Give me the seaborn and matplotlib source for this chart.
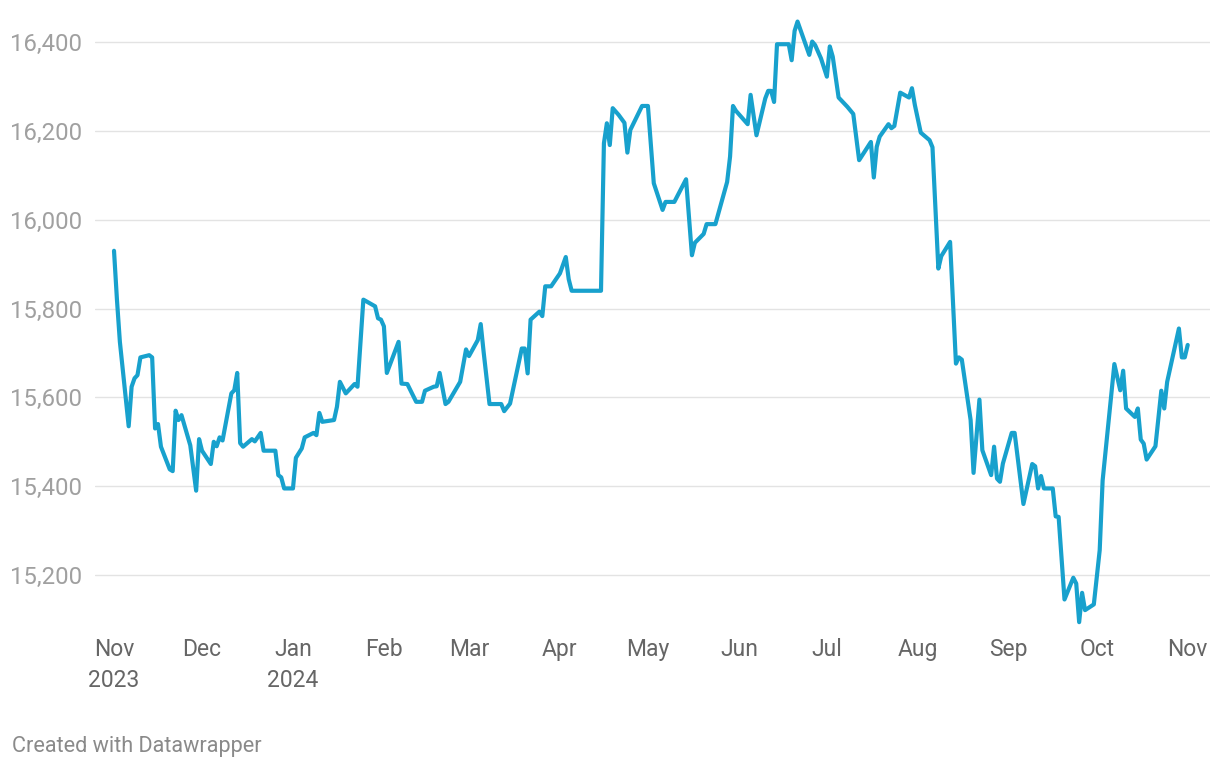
import numpy as np
import pandas as pd
import matplotlib
matplotlib.use("Agg")
import matplotlib.pyplot as plt
import seaborn as sns

# ---- data ----
dates = [
    "2023-11-01", "2023-11-02", "2023-11-03", "2023-11-06", "2023-11-07", "2023-11-08",
    "2023-11-09", "2023-11-10", "2023-11-13", "2023-11-14", "2023-11-15", "2023-11-16",
    "2023-11-17", "2023-11-20", "2023-11-21", "2023-11-22", "2023-11-23", "2023-11-24",
    "2023-11-27", "2023-11-29", "2023-11-30",
    "2023-12-01", "2023-12-04", "2023-12-05", "2023-12-06", "2023-12-07", "2023-12-08",
    "2023-12-11", "2023-12-12", "2023-12-13", "2023-12-14", "2023-12-15", "2023-12-18",
    "2023-12-19", "2023-12-21", "2023-12-22", "2023-12-26", "2023-12-27", "2023-12-28",
    "2023-12-29",
    "2024-01-01", "2024-01-02", "2024-01-04", "2024-01-05", "2024-01-08", "2024-01-09",
    "2024-01-10", "2024-01-11", "2024-01-15", "2024-01-16", "2024-01-17", "2024-01-19",
    "2024-01-22", "2024-01-23", "2024-01-25", "2024-01-29", "2024-01-30", "2024-01-31",
    "2024-02-01", "2024-02-02", "2024-02-06", "2024-02-07", "2024-02-09", "2024-02-12",
    "2024-02-14", "2024-02-15", "2024-02-18", "2024-02-19", "2024-02-20", "2024-02-22",
    "2024-02-23", "2024-02-27", "2024-02-29",
    "2024-03-01", "2024-03-04", "2024-03-05", "2024-03-06", "2024-03-08", "2024-03-12",
    "2024-03-13", "2024-03-15", "2024-03-19", "2024-03-20", "2024-03-21", "2024-03-22",
    "2024-03-25", "2024-03-26", "2024-03-27", "2024-03-29",
    "2024-04-01", "2024-04-03", "2024-04-04", "2024-04-05", "2024-04-15", "2024-04-16",
    "2024-04-17", "2024-04-18", "2024-04-19", "2024-04-21", "2024-04-23", "2024-04-24",
    "2024-04-25", "2024-04-29",
    "2024-05-01", "2024-05-03", "2024-05-06", "2024-05-07", "2024-05-10", "2024-05-14",
    "2024-05-16", "2024-05-17", "2024-05-20", "2024-05-21", "2024-05-24", "2024-05-28",
    "2024-05-29", "2024-05-30", "2024-05-31",
    "2024-06-04", "2024-06-05", "2024-06-07", "2024-06-10", "2024-06-11", "2024-06-12",
    "2024-06-13", "2024-06-14", "2024-06-18", "2024-06-19", "2024-06-20", "2024-06-21",
    "2024-06-25", "2024-06-26", "2024-06-27", "2024-06-29",
    "2024-07-01", "2024-07-02", "2024-07-03", "2024-07-05", "2024-07-08", "2024-07-10",
    "2024-07-12", "2024-07-16", "2024-07-17", "2024-07-18", "2024-07-19", "2024-07-22",
    "2024-07-23", "2024-07-24", "2024-07-26", "2024-07-29", "2024-07-30", "2024-07-31",
    "2024-08-02", "2024-08-05", "2024-08-06", "2024-08-08", "2024-08-09", "2024-08-12",
    "2024-08-14", "2024-08-15", "2024-08-16", "2024-08-19", "2024-08-20", "2024-08-22",
    "2024-08-23", "2024-08-26", "2024-08-27", "2024-08-28", "2024-08-29", "2024-08-30",
    "2024-09-02", "2024-09-03", "2024-09-06", "2024-09-09", "2024-09-10", "2024-09-11",
    "2024-09-12", "2024-09-13", "2024-09-16", "2024-09-17", "2024-09-18", "2024-09-20",
    "2024-09-23", "2024-09-24", "2024-09-25", "2024-09-26", "2024-09-27", "2024-09-30",
    "2024-10-02", "2024-10-03", "2024-10-07", "2024-10-09", "2024-10-10", "2024-10-11",
    "2024-10-14", "2024-10-15", "2024-10-16", "2024-10-17", "2024-10-18", "2024-10-21",
    "2024-10-23", "2024-10-24", "2024-10-25", "2024-10-29", "2024-10-30", "2024-10-31",
    "2024-11-01",
]
values = [
    15930, 15820, 15725, 15535, 15624, 15643,
    15650, 15690, 15695, 15690, 15530, 15540,
    15489, 15438, 15434, 15570, 15549, 15560,
    15492, 15390, 15506,
    15480, 15450, 15500, 15490, 15510, 15503,
    15609, 15616, 15655, 15497, 15489, 15506,
    15501, 15520, 15480, 15480, 15425, 15420,
    15395,
    15395, 15464, 15485, 15510, 15520, 15515,
    15565, 15545, 15549, 15579, 15635, 15609,
    15630, 15624, 15820, 15805, 15778, 15775,
    15760, 15655, 15725, 15631, 15630, 15590,
    15590, 15615, 15624, 15625, 15655, 15585,
    15590, 15635, 15708,
    15693, 15729, 15765, 15702, 15585, 15585,
    15569, 15586, 15710, 15710, 15654, 15775,
    15793, 15783, 15850, 15850,
    15879, 15916, 15866, 15840, 15840, 16172,
    16217, 16168, 16251, 16236, 16218, 16151,
    16202, 16256,
    16256, 16082, 16022, 16040, 16040, 16091,
    15920, 15948, 15968, 15990, 15990, 16085,
    16142, 16256, 16245,
    16215, 16281, 16190, 16273, 16290, 16290,
    16265, 16395, 16395, 16359, 16425, 16446,
    16371, 16401, 16393, 16363,
    16322, 16390, 16367, 16275, 16254, 16238,
    16134, 16175, 16095, 16164, 16187, 16215,
    16206, 16211, 16286, 16275, 16296, 16258,
    16196, 16179, 16163, 15890, 15918, 15950,
    15676, 15690, 15685, 15549, 15430, 15595,
    15481, 15425, 15489, 15417, 15410, 15451,
    15520, 15520, 15360, 15450, 15445, 15395,
    15423, 15395, 15395, 15332, 15331, 15145,
    15194, 15181, 15094, 15160, 15121, 15134,
    15256, 15413, 15675, 15616, 15660, 15575,
    15556, 15575, 15505, 15496, 15460, 15490,
    15615, 15575, 15635, 15755, 15690, 15690,
    15718,
]
y_ticks = [15200, 15400, 15600, 15800, 16000, 16200, 16400]
month_ticks = ["2023-11-01", "2023-12-01", "2024-01-01", "2024-02-01", "2024-03-01",
               "2024-04-01", "2024-05-01", "2024-06-01", "2024-07-01", "2024-08-01",
               "2024-09-01", "2024-10-01", "2024-11-01"]
month_labels = ["Nov\n2023", "Dec", "Jan\n2024", "Feb", "Mar", "Apr", "May", "Jun",
                "Jul", "Aug", "Sep", "Oct", "Nov"]
footer = "Created with Datawrapper"

df = pd.DataFrame({"date": pd.to_datetime(dates), "value": values})

sns.set_theme(style="white")
plt.rcParams["font.family"] = ["Roboto", "DejaVu Sans"]

W, H = 1220, 768
fig = plt.figure(figsize=(W / 100, H / 100), dpi=100)
ax_left, ax_right, ax_top, ax_bottom = 95, 1210, 10.9, 630.6
ax = fig.add_axes([ax_left / W, 1 - ax_bottom / H, (ax_right - ax_left) / W, (ax_bottom - ax_top) / H])

sns.lineplot(data=df, x="date", y="value", ax=ax, color="#18a1cd", linewidth=3.0,
             solid_joinstyle="round", solid_capstyle="round")

start = pd.Timestamp("2023-11-01")
ax.set_xlim(start - pd.Timedelta(days=6.48), start + pd.Timedelta(days=373.6))
ax.set_ylim(15075, 16470)

ax.set_yticks(y_ticks)
ax.set_yticklabels([f"{v:,}" for v in y_ticks])
ax.set_xticks(pd.to_datetime(month_ticks))
ax.set_xticklabels(month_labels, linespacing=1.45)

ax.yaxis.grid(True, color="#e3e3e3", linewidth=1.0)
ax.xaxis.grid(False)
ax.set_axisbelow(True)
for s in ax.spines.values():
    s.set_visible(False)

ax.tick_params(axis="y", length=0, pad=9.4, labelsize=17.2, labelcolor="#a0a0a0")
ax.tick_params(axis="x", length=0, pad=5.0, labelsize=16.5, labelcolor="#666666")
ax.set_xlabel("")
ax.set_ylabel("")

fig.text(12 / W, 1 - 752 / H, footer, fontsize=15.6, color="#8a8a8a", va="baseline", ha="left")

fig.savefig("out.png", dpi=100, facecolor="white")
